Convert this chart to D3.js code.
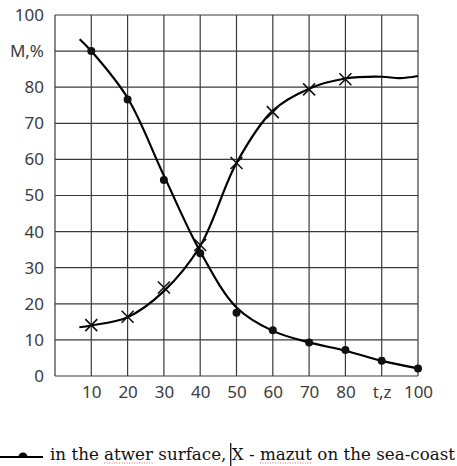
<!DOCTYPE html>
<html>
<head>
<meta charset="utf-8">
<script src="https://cdn.jsdelivr.net/npm/d3@7"></script>
<style>
  body { margin: 0; background: #fff; }
  svg { display: block; }
</style>
</head>
<body>
<div id="chart"></div>
<script>
const width = 457;
const height = 466;
const margin = { top: 15, left: 55, right: 39, bottom: 90 };
const plotW = width - margin.left - margin.right;
const plotH = height - margin.top - margin.bottom;

// x ticks and labels (90 is replaced by the axis name)
const xTicks = [10, 20, 30, 40, 50, 60, 70, 80, 90, 100];
const xTickLabels = ["10", "20", "30", "40", "50", "60", "70", "80", "t,z", "100"];
const yTicks = [0, 10, 20, 30, 40, 50, 60, 70, 80, 90, 100];
const yTickLabels = ["0", "10", "20", "30", "40", "50", "60", "70", "80", "M,%", "100"];

// water surface series (dots)
const surfaceT = [10, 20, 30, 40, 50, 60, 70, 80, 90, 100];
const surfaceM = [90, 76.6, 54.3, 34, 17.5, 12.7, 9.3, 7.2, 4.2, 2.1];
// the drawn curve starts a little left of the first point
const surfaceCurveT = [6.8, 10, 20, 30, 40, 50, 60, 70, 80, 90, 100];
const surfaceCurveM = [93.3, 90, 77, 55.5, 34.5, 19, 12.5, 9.3, 7, 4.2, 2.1];

// mazut on the sea-coast series (crosses)
const mazutT = [10, 20, 30, 40, 50, 60, 70, 80];
const mazutM = [14.1, 16.4, 24.5, 36.3, 59, 73.1, 79.4, 82.2];
const mazutCurveT = [6.7, 10, 20, 30, 40, 50, 60, 70, 80, 90, 95, 100];
const mazutCurveM = [13.5, 14, 16.3, 23.5, 36, 59, 73.5, 79.6, 82.4, 82.9, 82.5, 83.1];

const svg = d3.select("#chart").append("svg")
  .attr("width", width)
  .attr("height", height);

const g = svg.append("g")
  .attr("transform", `translate(${margin.left},${margin.top})`);

const x = d3.scaleLinear().domain([0, 100]).range([0, plotW]);
const y = d3.scaleLinear().domain([0, 100]).range([plotH, 0]);

// grid
g.append("g").selectAll("line")
  .data(xTicks)
  .join("line")
  .attr("x1", d => x(d)).attr("x2", d => x(d))
  .attr("y1", 0).attr("y2", plotH)
  .attr("stroke", "#3a3a3a").attr("stroke-width", 1.2);

g.append("g").selectAll("line")
  .data(yTicks)
  .join("line")
  .attr("x1", 0).attr("x2", plotW)
  .attr("y1", d => y(d)).attr("y2", d => y(d))
  .attr("stroke", "#3a3a3a").attr("stroke-width", 1.2);

g.append("line")
  .attr("x1", 0).attr("x2", 0).attr("y1", 0).attr("y2", plotH)
  .attr("stroke", "#3a3a3a").attr("stroke-width", 1.2);

// axes, only labels
const yAxis = d3.axisLeft(y)
  .tickValues(yTicks)
  .tickFormat((d, i) => yTickLabels[i])
  .tickSize(0)
  .tickPadding(11);
const xAxis = d3.axisBottom(x)
  .tickValues(xTicks)
  .tickFormat((d, i) => xTickLabels[i])
  .tickSize(0)
  .tickPadding(10);

g.append("g").call(yAxis)
  .call(a => a.select(".domain").remove())
  .selectAll("text")
  .attr("font-family", "Noto Sans, sans-serif")
  .attr("font-size", 17)
  .attr("fill", "#3c3c3c");

g.append("g").attr("transform", `translate(0,${plotH})`).call(xAxis)
  .call(a => a.select(".domain").remove())
  .selectAll("text")
  .attr("font-family", "Noto Sans, sans-serif")
  .attr("font-size", 17)
  .attr("fill", "#3c3c3c");

const line = d3.line()
  .x(d => x(d[0]))
  .y(d => y(d[1]))
  .curve(d3.curveCatmullRom.alpha(0.5));

g.append("path")
  .datum(surfaceCurveT.map((t, i) => [t, surfaceCurveM[i]]))
  .attr("d", line)
  .attr("fill", "none")
  .attr("stroke", "#000")
  .attr("stroke-width", 2.2);

g.append("path")
  .datum(mazutCurveT.map((t, i) => [t, mazutCurveM[i]]))
  .attr("d", line)
  .attr("fill", "none")
  .attr("stroke", "#000")
  .attr("stroke-width", 2.2);

g.append("g").selectAll("circle")
  .data(surfaceT.map((t, i) => [t, surfaceM[i]]))
  .join("circle")
  .attr("cx", d => x(d[0]))
  .attr("cy", d => y(d[1]))
  .attr("r", 4)
  .attr("fill", "#111");

const cross = 6;
g.append("g").selectAll("path")
  .data(mazutT.map((t, i) => [t, mazutM[i]]))
  .join("path")
  .attr("d", d => {
    const cx = x(d[0]), cy = y(d[1]);
    return `M${cx - cross},${cy - cross}L${cx + cross},${cy + cross}M${cx - cross},${cy + cross}L${cx + cross},${cy - cross}`;
  })
  .attr("stroke", "#111")
  .attr("stroke-width", 1.6)
  .attr("fill", "none");

// legend
const legY = 457;
svg.append("line")
  .attr("x1", 0).attr("x2", 43)
  .attr("y1", legY).attr("y2", legY)
  .attr("stroke", "#000").attr("stroke-width", 2);
svg.append("path")
  .attr("d", d3.arc()({ innerRadius: 0, outerRadius: 4.5, startAngle: -Math.PI / 2, endAngle: Math.PI / 2 }))
  .attr("transform", `translate(23,${legY})`)
  .attr("fill", "#000");

const legText = svg.append("text")
  .attr("x", 50)
  .attr("y", legY + 3)
  .attr("font-family", "DejaVu Serif, serif")
  .attr("font-size", 16.5)
  .attr("fill", "#111");

const parts = [
  { t: "in the ", u: false },
  { t: "atwer", u: true },
  { t: " surface, ", u: false },
  { t: "X - ", u: false, cursor: true },
  { t: "mazut", u: true },
  { t: " on the sea-coast", u: false }
];
const spans = parts.map(p => legText.append("tspan").text(p.t));

// stretch the legend text to its width in the picture
legText.attr("textLength", 405).attr("lengthAdjust", "spacingAndGlyphs");

parts.forEach((p, i) => {
  const node = spans[i].node();
  const start = node.getStartPositionOfChar(0).x;
  const n = p.t.length;
  const end = node.getEndPositionOfChar(n - 1).x;
  if (p.u) {
    svg.append("line")
      .attr("x1", start).attr("x2", end)
      .attr("y1", legY + 6).attr("y2", legY + 6)
      .attr("stroke", "#e06060")
      .attr("stroke-width", 1)
      .attr("stroke-dasharray", "1,1.5");
  }
  if (p.cursor) {
    svg.append("line")
      .attr("x1", start - 1).attr("x2", start - 1)
      .attr("y1", legY - 14).attr("y2", legY + 9)
      .attr("stroke", "#000")
      .attr("stroke-width", 1.2);
  }
});
</script>
</body>
</html>
